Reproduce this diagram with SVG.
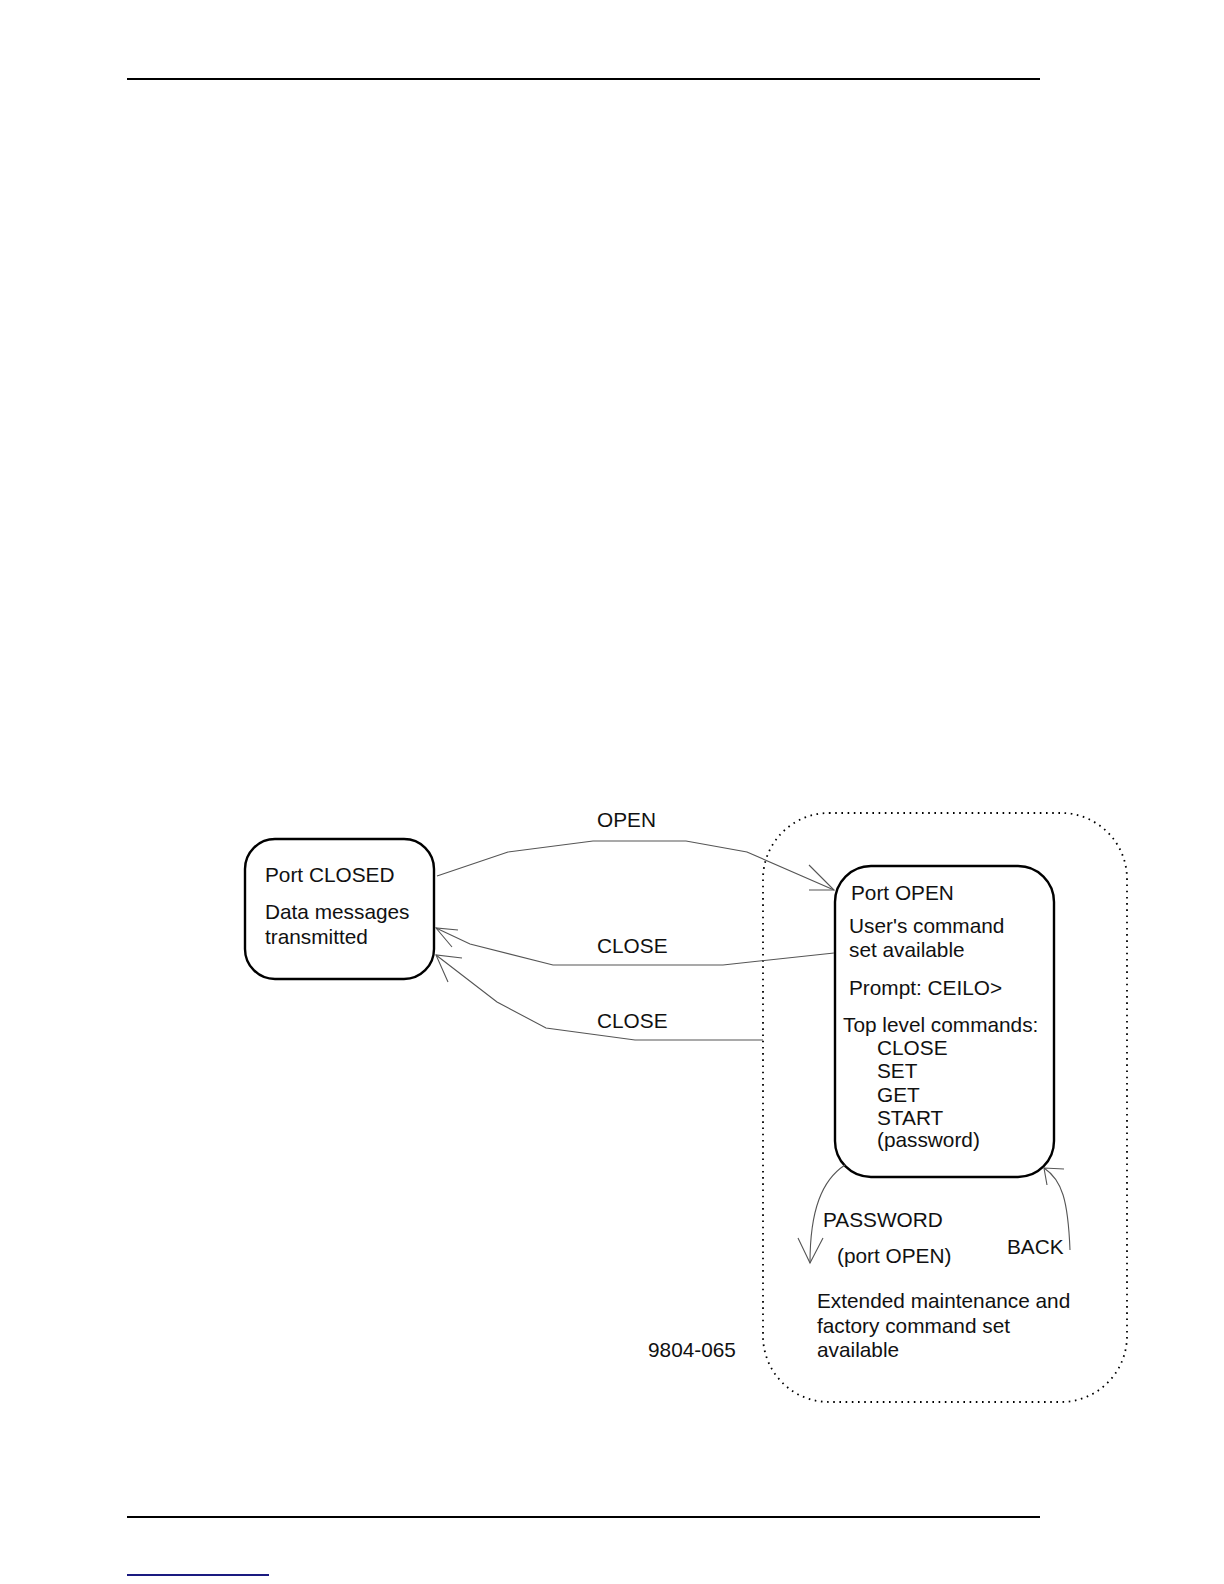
<svg xmlns="http://www.w3.org/2000/svg" width="1224" height="1584" viewBox="0 0 1224 1584">
<style>
text{font-family:"Liberation Sans",Arial,sans-serif;font-size:20.8px;fill:#111}
.box{fill:none;stroke:#000;stroke-width:2.4}
.outer{fill:none;stroke:#000;stroke-width:1.8;stroke-dasharray:1.6 4.6}
.conn{fill:none;stroke:#555;stroke-width:1.1}
.rule{stroke:#000;stroke-width:2}
</style>
<rect width="1224" height="1584" fill="#fff"/>
<line class="rule" x1="127" y1="79" x2="1040" y2="79"/>
<line class="rule" x1="127" y1="1517" x2="1040" y2="1517"/>
<line x1="127" y1="1575" x2="269" y2="1575" stroke="#1a1a80" stroke-width="2"/>

<g id="ext-mode">
<rect class="outer" x="763" y="813" width="364" height="589" rx="66" ry="66"/>
<text x="817" y="1308">Extended maintenance and</text>
<text x="817" y="1333">factory command set</text>
<text x="817" y="1357">available</text>
</g>

<g id="port-closed">
<rect class="box" x="245" y="839" width="189" height="140" rx="30" ry="30"/>
<text x="265" y="882">Port CLOSED</text>
<text x="265" y="919">Data messages</text>
<text x="265" y="944">transmitted</text>
</g>

<g id="port-open">
<rect class="box" x="835" y="866" width="219" height="311" rx="36" ry="36"/>
<text x="851" y="900">Port OPEN</text>
<text x="849" y="933">User's command</text>
<text x="849" y="957">set available</text>
<text x="849" y="995">Prompt: CEILO&gt;</text>
<text x="843" y="1032">Top level commands:</text>
<text x="877" y="1055">CLOSE</text>
<text x="877" y="1078">SET</text>
<text x="877" y="1102">GET</text>
<text x="877" y="1125">START</text>
<text x="877" y="1147">(password)</text>
</g>

<g id="connectors">
<polyline class="conn" points="437,876 508,852 593,841 686,841 747,852 834,890"/>
<polyline class="conn" points="809,865 834,890 809,890"/>
<text x="597" y="827">OPEN</text>

<polyline class="conn" points="834,953 723,965 553,965 470,944 436,928"/>
<polyline class="conn" points="458,930 436,928 452,947"/>
<text x="597" y="953">CLOSE</text>

<polyline class="conn" points="763,1040 635,1040 546,1028 497,1002 436,955"/>
<polyline class="conn" points="462,958 436,955 448,982"/>
<text x="597" y="1028">CLOSE</text>

<path class="conn" d="M 845 1165 C 822 1180 810 1210 810 1263"/>
<polyline class="conn" points="798,1238 810,1263 823,1238"/>
<text x="823" y="1227">PASSWORD</text>
<text x="837" y="1263">(port OPEN)</text>

<path class="conn" d="M 1070 1250 C 1068 1200 1062 1180 1044 1168"/>
<polyline class="conn" points="1064,1169 1044,1168 1047,1185"/>
<text x="1007" y="1254">BACK</text>
</g>

<text x="648" y="1357">9804-065</text>
</svg>
